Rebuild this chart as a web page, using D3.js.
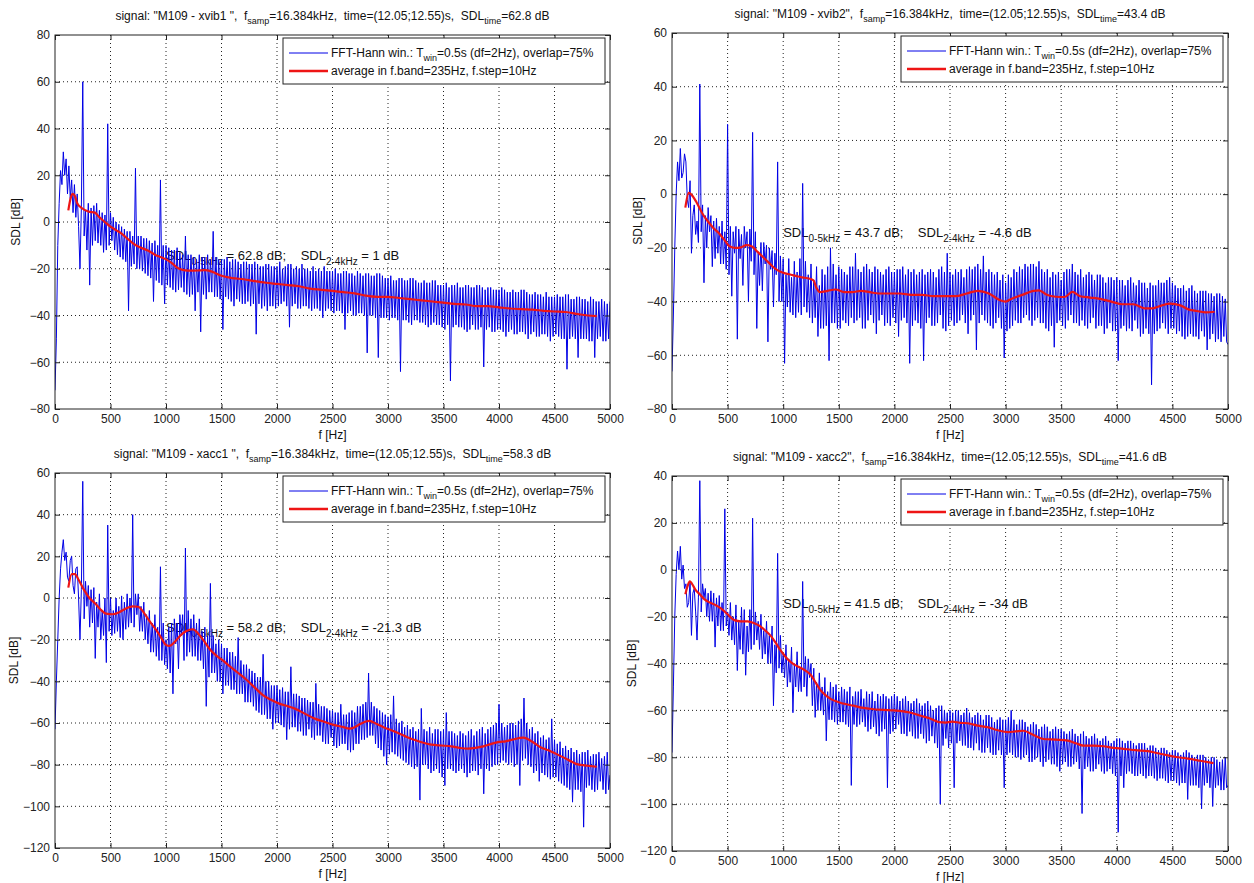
<!DOCTYPE html>
<html><head><meta charset="utf-8">
<script src="https://cdn.jsdelivr.net/npm/d3@7"></script>
<style>
body{margin:0;background:#fff;}
svg text{font-family:"Liberation Sans",Arial,sans-serif;white-space:pre;}
</style></head><body>
<svg id="c" width="1254" height="883"></svg>
<script>
// ---------- DATA ----------
const xTicks = [0,500,1000,1500,2000,2500,3000,3500,4000,4500,5000];
const yTicks1 = [-80,-60,-40,-20,0,20,40,60,80];
const yTicks2 = [-80,-60,-40,-20,0,20,40,60];
const yTicks3 = [-120,-100,-80,-60,-40,-20,0,20,40,60];
const yTicks4 = [-120,-100,-80,-60,-40,-20,0,20,40];

const signals = ['"M109 - xvib1 "', '"M109 - xvib2"', '"M109 - xacc1 "', '"M109 - xacc2"'];
const sdlTime = ["62.8","43.4","58.3","41.6"];
const sdl05 = ["62.8","43.7","58.2","41.5"];
const sdl24 = ["1","-4.6","-21.3","-34"];
const legendLabels = ["FFT-Hann win.: T|win|=0.5s (df=2Hz), overlap=75%", "average in f.band=235Hz, f.step=10Hz"];

// FFT spectra, one value every 12.5 Hz from 0 to 5000 Hz
const fftStep = 12.5;
const blue1 = [
-72,-50,-10,8,22,16,30,20,27,12,24,10,18,4,16,2,12,-2,-20,6,
60,-6,5,-12,8,-27,6,-10,7,-8,8,-9,5,-10,4,-13,3,-12,42,-10,
4,-8,2,-12,0,-14,-1,-15,-2,-16,-3,-17,-4,-38,-4,-19,-6,-18,23,-20,
-6,-20,-6,-21,-7,-22,-7,-23,-8,-24,-9,-34,-8,-25,-10,-26,18,-27,-10,-35,
-10,-27,-11,-28,-12,-29,-12,-30,-11,-29,-13,-28,-14,-30,-6,-31,-14,-32,-14,-31,
-15,-38,-16,-30,-14,-47,-15,-31,-15,-33,-14,-30,-16,-30,-4,-32,-15,-32,-16,-33,
-16,-46,-16,-32,-15,-33,-17,-34,-16,-36,-16,-33,-17,-34,-18,-35,-17,-35,-17,-34,
-18,-36,-18,-35,-17,-48,-18,-35,-19,-37,-19,-36,-18,-38,-18,-36,-19,-36,-19,-37,
-19,-36,-17,-35,-20,-34,-19,-36,-18,-45,-18,-36,-20,-35,-19,-37,-20,-37,-18,-36,
-20,-36,-20,-37,-21,-38,-19,-37,-21,-37,-20,-38,-21,-41,-19,-38,-21,-37,-21,-38,
-21,-39,-20,-38,-22,-38,-22,-39,-21,-46,-21,-39,-22,-38,-22,-40,-23,-40,-21,-39,
-22,-39,-23,-40,-22,-56,-22,-40,-23,-40,-23,-41,-22,-58,-22,-41,-23,-41,-24,-41,
-24,-42,-23,-41,-25,-41,-25,-42,-24,-64,-24,-42,-25,-42,-25,-43,-24,-44,-24,-42,
-25,-42,-26,-43,-26,-43,-25,-44,-26,-45,-26,-44,-25,-43,-25,-44,-27,-44,-27,-45,
-27,-46,-26,-44,-28,-68,-27,-45,-27,-44,-26,-45,-28,-45,-28,-46,-27,-47,-27,-46,
-28,-44,-28,-46,-27,-46,-27,-45,-28,-62,-29,-46,-28,-45,-28,-47,-29,-47,-29,-46,
-29,-46,-28,-47,-29,-49,-30,-47,-30,-46,-29,-48,-30,-48,-30,-47,-29,-47,-29,-48,
-30,-50,-31,-48,-31,-47,-30,-49,-31,-49,-31,-48,-32,-48,-30,-49,-32,-51,-32,-49,
-32,-48,-31,-49,-32,-50,-32,-50,-31,-63,-31,-50,-33,-49,-33,-50,-32,-58,-32,-50,
-33,-50,-33,-50,-34,-51,-32,-51,-33,-58,-34,-50,-34,-49,-33,-51,-34,-51,-35,-50,
-34];
const blue2 = [
-66,-45,-20,0,12,5,17,6,8,15,12,-2,-5,5,-22,-8,-4,-15,-10,-18,
41,-14,-4,-33,-8,-20,-5,-14,-8,-27,-10,-24,-9,-22,-12,-26,-10,-26,-14,-28,
26,-30,-12,-38,-14,-22,-12,-54,-13,-24,-15,-34,-12,-20,-14,-40,-13,-25,23,-30,
-14,-50,-22,-34,-18,-36,-18,-26,-19,-55,-20,-28,-21,-42,-22,-30,12,-40,-23,-40,
-24,-63,-30,-42,-24,-44,-31,-45,-25,-46,-29,-44,-24,-45,4,-42,-25,-44,-30,-46,
-26,-48,-32,-46,-27,-53,-34,-50,-28,-50,-30,-49,-27,-62,-20,-48,-26,-48,-30,-50,
-27,-50,-28,-47,-29,-48,-30,-49,-27,-46,-27,-48,-22,-47,-28,-46,-29,-50,-27,-50,
-26,-47,-28,-45,-29,-48,-27,-52,-28,-47,-29,-45,-30,-49,-28,-48,-27,-49,-29,-46,
-29,-48,-28,-53,-28,-47,-27,-46,-30,-48,-28,-63,-29,-49,-28,-47,-30,-48,-29,-50,
-28,-62,-30,-48,-29,-46,-28,-49,-29,-49,-31,-48,-28,-45,-27,-50,-29,-51,-22,-49,
-29,-47,-30,-49,-28,-48,-29,-47,-28,-45,-31,-48,-28,-52,-27,-47,-28,-45,-27,-58,
-26,-48,-28,-45,-23,-47,-29,-48,-28,-49,-29,-50,-30,-48,-29,-46,-32,-50,-30,-61,
-33,-51,-30,-50,-31,-49,-28,-47,-29,-48,-27,-48,-28,-46,-26,-45,-27,-47,-26,-49,
-26,-47,-27,-46,-25,-48,-28,-48,-29,-50,-28,-51,-31,-49,-29,-57,-30,-48,-29,-47,
-32,-49,-29,-50,-28,-47,-28,-45,-26,-48,-29,-48,-30,-49,-28,-47,-31,-49,-30,-50,
-29,-48,-30,-46,-32,-50,-30,-49,-30,-49,-31,-52,-33,-50,-31,-48,-31,-51,-32,-51,
-31,-62,-32,-50,-32,-49,-34,-51,-32,-50,-31,-51,-33,-47,-34,-50,-32,-53,-33,-52,
-33,-50,-35,-52,-33,-71,-34,-52,-34,-51,-32,-50,-33,-48,-33,-50,-32,-52,-31,-50,
-33,-50,-34,-52,-35,-51,-35,-53,-34,-54,-36,-53,-35,-52,-34,-53,-36,-53,-37,-54,
-36,-51,-36,-53,-36,-58,-37,-54,-37,-52,-38,-55,-37,-54,-37,-55,-38,-53,-39,-55,
-56];
const blue3 = [
-63,-40,-20,0,14,22,28,18,22,10,8,18,20,6,2,14,15,0,-20,4,
56,-10,8,-4,6,-14,4,-12,5,-29,-2,-14,2,-20,-6,-18,0,-31,35,-16,
0,-18,-6,-17,0,-16,-4,-19,1,-20,-2,-15,2,-14,0,-12,40,-14,2,-8,
2,-16,-4,-16,-2,-20,-8,-22,-6,-26,-12,-26,-8,-28,-14,-30,15,-30,-12,-32,
-20,-34,-14,-36,-12,-46,-10,-22,-12,-34,-8,-18,-8,-30,24,-28,-6,-26,-10,-28,
-8,-28,-12,-30,-10,-30,-16,-34,-14,-52,-18,-38,7,-36,-18,-36,-22,-40,-20,-40,
-22,-46,-24,-42,-24,-42,-26,-44,-26,-44,-28,-46,-19,-46,-30,-46,-32,-50,-32,-50,
-34,-50,-35,-52,-36,-54,-38,-55,-38,-56,-27,-56,-40,-58,-40,-58,-42,-63,-42,-60,
-42,-60,-44,-61,-43,-62,-45,-68,-45,-63,-33,-62,-46,-62,-46,-64,-47,-64,-48,-66,
-48,-66,-49,-63,-50,-67,-50,-68,-41,-66,-51,-66,-52,-69,-52,-70,-53,-70,-54,-67,
-54,-71,-55,-72,-55,-71,-51,-70,-56,-70,-56,-73,-55,-74,-54,-73,-55,-70,-52,-70,
-52,-68,-51,-68,-50,-67,-36,-66,-50,-66,-52,-70,-53,-72,-54,-73,-55,-76,-56,-80,
-57,-75,-56,-74,-47,-75,-58,-76,-60,-77,-59,-78,-62,-79,-61,-80,-63,-81,-62,-82,
-64,-81,-63,-97,-53,-80,-63,-80,-64,-82,-62,-84,-65,-83,-63,-82,-63,-84,-64,-86,
-63,-90,-55,-82,-64,-82,-64,-83,-65,-84,-66,-83,-64,-82,-65,-84,-66,-86,-64,-84,
-63,-83,-66,-83,-64,-85,-63,-82,-62,-94,-65,-82,-63,-83,-62,-81,-61,-80,-60,-80,
-51,-79,-60,-78,-62,-79,-61,-80,-60,-79,-60,-81,-61,-80,-59,-90,-58,-78,-48,-77,
-60,-80,-63,-81,-62,-84,-65,-83,-64,-88,-67,-84,-66,-85,-68,-86,-67,-87,-58,-86,
-68,-86,-70,-88,-69,-89,-72,-90,-71,-91,-73,-92,-72,-98,-74,-92,-73,-92,-75,-93,
-74,-110,-74,-91,-73,-90,-76,-92,-75,-93,-75,-92,-74,-88,-77,-92,-76,-94,-74,-92,
-85];
const blue4 = [
-78,-50,-20,-2,8,0,10,-4,2,-8,-6,-16,-14,-5,-28,-10,-8,-18,-30,-12,
38,-18,-6,-12,-8,-20,-10,-22,-9,-22,-10,-33,-12,-24,-11,-26,-14,-26,26,-24,
-18,-28,-14,-30,-20,-32,-15,-43,-22,-34,-16,-36,-17,-45,-24,-35,-17,-34,22,-32,
-18,-30,-22,-34,-19,-38,-26,-36,-22,-40,-28,-40,-24,-58,-32,-44,7,-42,-28,-44,
-36,-46,-32,-50,-38,-48,-33,-61,-40,-50,-35,-52,-42,-52,-5,-50,-37,-54,-38,-46,
-40,-58,-42,-63,-48,-60,-44,-60,-50,-62,-46,-73,-52,-64,-48,-64,-50,-65,-49,-66,
-52,-65,-50,-65,-51,-66,-52,-67,-50,-92,-54,-66,-52,-67,-52,-66,-51,-65,-55,-67,
-52,-69,-53,-68,-52,-67,-56,-70,-53,-71,-54,-69,-53,-68,-54,-93,-55,-70,-54,-69,
-53,-68,-54,-66,-56,-70,-55,-70,-54,-71,-56,-69,-57,-71,-56,-72,-55,-72,-57,-70,
-58,-72,-57,-74,-56,-73,-58,-71,-60,-74,-59,-76,-58,-100,-58,-75,-60,-72,-61,-76,
-60,-74,-61,-93,-60,-74,-60,-73,-62,-75,-61,-75,-59,-76,-61,-76,-63,-77,-62,-74,
-61,-77,-62,-78,-64,-78,-62,-76,-62,-78,-63,-79,-65,-79,-64,-77,-63,-79,-64,-93,
-64,-79,-63,-78,-60,-79,-64,-80,-66,-80,-64,-81,-64,-80,-65,-79,-67,-82,-66,-82,
-65,-81,-66,-80,-68,-82,-67,-84,-66,-82,-67,-81,-69,-83,-68,-83,-67,-84,-68,-86,
-68,-83,-69,-82,-70,-84,-69,-84,-68,-83,-70,-82,-71,-85,-70,-104,-69,-85,-71,-84,
-72,-86,-71,-86,-70,-85,-72,-83,-73,-86,-72,-87,-71,-86,-73,-85,-74,-87,-73,-88,
-72,-112,-72,-88,-73,-93,-74,-87,-73,-86,-73,-87,-74,-88,-75,-88,-74,-87,-74,-88,
-74,-89,-76,-88,-75,-88,-75,-89,-76,-90,-77,-89,-76,-89,-76,-90,-77,-91,-78,-90,
-77,-90,-77,-91,-78,-92,-79,-91,-78,-91,-77,-98,-78,-92,-79,-92,-80,-92,-79,-93,
-79,-102,-79,-92,-80,-91,-81,-93,-80,-101,-80,-93,-81,-92,-82,-94,-81,-94,-80,-93,
-92];

// band averages [f (Hz), SDL (dB)]
const avg1 = [[120,5],[140,10],[160,12],[180,11],[200,8],[240,6],[300,4.5],[360,4],[400,2],[450,0],[500,-2],[550,-3.5],[600,-5],[650,-7],[700,-9],[750,-10.5],[800,-11.5],[850,-12.5],[900,-14],[950,-15],[1000,-16],[1050,-17.5],[1100,-19.5],[1150,-20.5],[1200,-20.8],[1250,-20.8],[1300,-20.7],[1350,-20.6],[1400,-21],[1450,-22],[1500,-23],[1600,-24],[1700,-24.5],[1800,-25.3],[1900,-26],[2000,-26.5],[2100,-27],[2200,-27.5],[2300,-28.5],[2400,-29],[2500,-29.5],[2600,-30],[2700,-30.5],[2800,-31.5],[2900,-32],[3000,-32],[3100,-32.5],[3200,-33],[3300,-33.5],[3400,-34],[3500,-34.5],[3600,-35],[3700,-35.3],[3800,-36],[3900,-36],[4000,-36.5],[4100,-37],[4200,-37.3],[4300,-37.5],[4400,-38],[4500,-38.3],[4600,-38.5],[4700,-39.3],[4800,-40],[4880,-40.3]];
const avg2 = [[120,-5],[150,0.5],[170,0],[220,-3],[270,-7],[320,-10],[370,-12.5],[420,-14.5],[470,-17],[520,-19.5],[570,-20],[620,-19.8],[670,-19],[720,-19.5],[770,-21.5],[820,-23.5],[870,-25.5],[920,-27.5],[970,-28.8],[1020,-29.5],[1070,-30],[1120,-30.5],[1170,-31],[1220,-31.3],[1270,-32],[1300,-35],[1330,-36.5],[1400,-36],[1470,-35.5],[1550,-36.5],[1620,-36.5],[1700,-36],[1780,-36.5],[1860,-37],[1950,-37],[2050,-37],[2150,-37.5],[2250,-37.5],[2350,-38],[2450,-38],[2550,-38],[2650,-37],[2750,-36],[2850,-37],[2950,-39.5],[3000,-40],[3050,-39],[3150,-37.5],[3250,-36],[3300,-35.8],[3370,-37.5],[3450,-38.2],[3530,-38.3],[3600,-36.4],[3670,-38],[3760,-38.5],[3850,-39],[3950,-40],[4050,-41],[4150,-41],[4250,-42.5],[4320,-42.5],[4400,-41.5],[4480,-40.8],[4570,-41.4],[4650,-43],[4720,-43.5],[4800,-44],[4880,-43.8]];
const avg3 = [[120,5],[150,11.5],[180,11.5],[210,9],[260,4],[310,0],[360,-2.5],[410,-5.5],[460,-7.5],[520,-7.8],[580,-6.8],[640,-5],[700,-4],[750,-4.2],[800,-7],[850,-11],[900,-14.5],[950,-18.5],[1000,-22.5],[1030,-23],[1080,-21],[1130,-18],[1180,-16],[1240,-15],[1290,-17],[1340,-20.5],[1400,-25],[1450,-27.5],[1500,-29.5],[1580,-33],[1650,-36],[1730,-39.5],[1800,-43],[1870,-46.5],[1950,-49],[2020,-50.7],[2100,-52],[2160,-53.1],[2250,-55.5],[2340,-57.9],[2430,-59.5],[2520,-61],[2600,-62],[2650,-62.7],[2700,-62],[2750,-60.5],[2830,-59],[2900,-60.5],[2960,-62],[3030,-63.5],[3100,-65],[3180,-67],[3250,-68.3],[3320,-69.5],[3390,-70.4],[3480,-70.8],[3570,-71.2],[3650,-72],[3720,-72.3],[3800,-71.8],[3860,-71.2],[3930,-70],[4000,-69.1],[4060,-68.8],[4120,-68],[4220,-67],[4300,-69],[4370,-71.5],[4440,-73],[4510,-74.7],[4580,-76.5],[4660,-78.7],[4720,-80],[4770,-80.3],[4880,-81]];
const avg4 = [[120,-10.5],[140,-7],[160,-5],[180,-6],[210,-8.5],[250,-10.5],[290,-12.5],[340,-14],[390,-15],[440,-16.5],[500,-19],[560,-21.5],[620,-22],[680,-22],[740,-22.8],[790,-24],[840,-26],[890,-28.3],[930,-31],[970,-34],[1010,-36.5],[1040,-38.2],[1100,-40.5],[1150,-41.7],[1200,-43],[1250,-45],[1290,-48],[1330,-51],[1380,-53.5],[1430,-55.2],[1500,-56.5],[1560,-57.3],[1630,-58],[1690,-58.7],[1780,-59.3],[1900,-59.8],[1990,-60],[2080,-60.4],[2150,-61],[2230,-62.2],[2320,-63.5],[2400,-65],[2460,-65.2],[2520,-64.8],[2590,-65.3],[2660,-65.5],[2750,-66.5],[2840,-67.2],[2930,-68.5],[3020,-69.3],[3090,-69],[3160,-68.7],[3250,-70.5],[3340,-72.2],[3450,-72.5],[3560,-72.9],[3630,-74],[3700,-75],[3790,-75],[3880,-75.3],[3970,-76],[4060,-76.4],[4170,-77],[4280,-77.4],[4370,-78.3],[4460,-79.2],[4550,-80],[4640,-80.6],[4750,-81.5],[4870,-82.5]];

// ---------- DRAWING ----------
const svg = d3.select("#c");
const BLUE = "#0000e6", RED = "#ee1515";

const panels = [
  {blue: blue1, avg: avg1, yTicks: yTicks1, i: 0, l: 55,  r: 610,  t: 35,  b: 409, ylx: 16},
  {blue: blue2, avg: avg2, yTicks: yTicks2, i: 1, l: 672, r: 1228, t: 33,  b: 409, ylx: 638},
  {blue: blue3, avg: avg3, yTicks: yTicks3, i: 2, l: 55,  r: 610,  t: 473, b: 848, ylx: 14},
  {blue: blue4, avg: avg4, yTicks: yTicks4, i: 3, l: 672, r: 1228, t: 476, b: 851, ylx: 632}
];

function rich(sel, parts, subSize, shift) {
  parts.forEach(([s, sub], k) => {
    const t = sel.append("tspan").text(s);
    if (sub) t.attr("dy", shift).attr("font-size", subSize);
    else if (k > 0 && parts[k-1][1]) t.attr("dy", -shift);
  });
}

panels.forEach(p => {
  const x = d3.scaleLinear().domain([0, 5000]).range([p.l, p.r]);
  const y = d3.scaleLinear().domain([p.yTicks[0], p.yTicks[p.yTicks.length-1]]).range([p.b, p.t]);
  const g = svg.append("g");

  g.append("rect").attr("x", p.l).attr("y", p.t).attr("width", p.r - p.l).attr("height", p.b - p.t).attr("fill", "#fff");

  // grid
  g.append("g").selectAll("line").data(xTicks.slice(1, -1)).join("line")
    .attr("x1", d => x(d)).attr("x2", d => x(d)).attr("y1", p.t).attr("y2", p.b)
    .attr("stroke", "#222").attr("stroke-width", 1).attr("stroke-dasharray", "1,3");
  g.append("g").selectAll("line").data(p.yTicks.slice(1, -1)).join("line")
    .attr("y1", d => y(d)).attr("y2", d => y(d)).attr("x1", p.l).attr("x2", p.r)
    .attr("stroke", "#222").attr("stroke-width", 1).attr("stroke-dasharray", "1,3");

  // annotation
  const ann = g.append("text").attr("x", x(1000)).attr("y", y(-14) + 5).attr("font-size", 13).attr("fill", "#111");
  rich(ann, [["SDL",0],["0-5kHz",1],[" = " + sdl05[p.i] + " dB;    SDL",0],["2-4kHz",1],[" = " + sdl24[p.i] + " dB",0]], 10, 5);

  // clip
  const cid = "clip" + p.i;
  svg.append("clipPath").attr("id", cid).append("rect")
    .attr("x", p.l).attr("y", p.t).attr("width", p.r - p.l).attr("height", p.b - p.t);

  const blueLine = d3.line().x((d, k) => x(k * fftStep)).y(d => y(d));
  g.append("path").datum(p.blue).attr("d", blueLine).attr("clip-path", `url(#${cid})`)
    .attr("fill", "none").attr("stroke", BLUE).attr("stroke-width", 1).attr("stroke-linejoin", "round");

  const redLine = d3.line().x(d => x(d[0])).y(d => y(d[1])).curve(d3.curveMonotoneX);
  g.append("path").datum(p.avg).attr("d", redLine).attr("clip-path", `url(#${cid})`)
    .attr("fill", "none").attr("stroke", RED).attr("stroke-width", 2.2);

  // axes with inward ticks
  const fontAttr = s => s.attr("font-size", 12).attr("font-family", '"Liberation Sans",Arial,sans-serif');
  const clean = s => { s.select(".domain").remove(); s.selectAll(".tick line").attr("stroke", "#222"); s.selectAll("text").attr("fill", "#222"); };
  g.append("g").attr("transform", `translate(0,${p.b})`)
    .call(d3.axisBottom(x).tickValues(xTicks).tickSizeInner(-5).tickSizeOuter(0).tickPadding(5).tickFormat(d3.format("d")))
    .call(fontAttr).call(clean);
  g.append("g").attr("transform", `translate(0,${p.t})`)
    .call(d3.axisTop(x).tickValues(xTicks).tickSizeInner(-5).tickSizeOuter(0).tickFormat(""))
    .call(clean);
  g.append("g").attr("transform", `translate(${p.l},0)`)
    .call(d3.axisLeft(y).tickValues(p.yTicks).tickSizeInner(-5).tickSizeOuter(0).tickPadding(5).tickFormat(d3.format("d")))
    .call(fontAttr).call(clean);
  g.append("g").attr("transform", `translate(${p.r},0)`)
    .call(d3.axisRight(y).tickValues(p.yTicks).tickSizeInner(-5).tickSizeOuter(0).tickFormat(""))
    .call(clean);

  g.append("rect").attr("x", p.l).attr("y", p.t).attr("width", p.r - p.l).attr("height", p.b - p.t)
    .attr("fill", "none").attr("stroke", "#222").attr("stroke-width", 1);

  // legend
  const lw = 322, lh = 46, lx = p.r - 5 - lw, ly = p.t + 3;
  g.append("rect").attr("x", lx).attr("y", ly).attr("width", lw).attr("height", lh)
    .attr("fill", "#fff").attr("stroke", "#222").attr("stroke-width", 1);
  const rows = [{c: BLUE, w: 1, yy: ly + 15}, {c: RED, w: 2.5, yy: ly + 33}];
  rows.forEach((row, k) => {
    g.append("line").attr("x1", lx + 6).attr("x2", lx + 45).attr("y1", row.yy).attr("y2", row.yy)
      .attr("stroke", row.c).attr("stroke-width", row.w);
    const tx = g.append("text").attr("x", lx + 48).attr("y", row.yy + 4).attr("font-size", 12).attr("fill", "#111");
    const segs = legendLabels[k].split("|");
    if (segs.length === 3) rich(tx, [[segs[0],0],[segs[1],1],[segs[2],0]], 9, 4);
    else tx.text(segs[0]);
  });

  // title
  const tt = g.append("text").attr("x", (p.l + p.r) / 2).attr("y", p.t - 15).attr("text-anchor", "middle")
    .attr("font-size", 12).attr("fill", "#111");
  rich(tt, [["signal: " + signals[p.i] + ",  f",0],["samp",1],["=16.384kHz,  time=(12.05;12.55)s,  SDL",0],["time",1],["=" + sdlTime[p.i] + " dB",0]], 9, 4);

  // axis labels
  g.append("text").attr("x", (p.l + p.r) / 2).attr("y", p.b + 30).attr("text-anchor", "middle")
    .attr("font-size", 12).attr("fill", "#111").text("f [Hz]");
  g.append("text").attr("transform", `translate(${p.ylx + 4},${(p.t + p.b) / 2}) rotate(-90)`)
    .attr("text-anchor", "middle").attr("font-size", 12).attr("fill", "#111").text("SDL [dB]");
});
</script>
</body></html>
